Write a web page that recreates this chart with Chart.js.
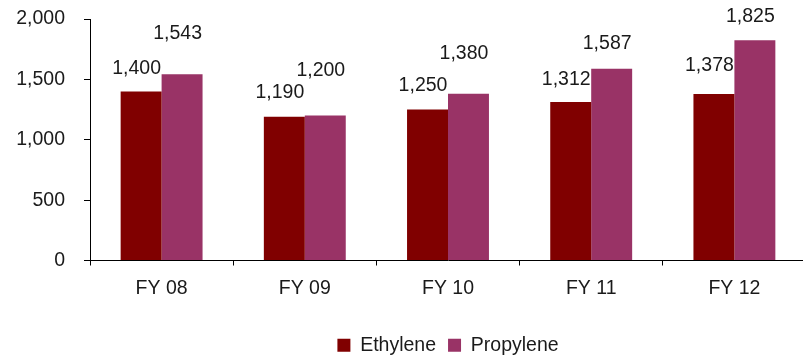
<!DOCTYPE html>
<html>
<head>
<meta charset="utf-8">
<script src="https://cdn.jsdelivr.net/npm/chart.js@4/dist/chart.umd.min.js"></script>
<style>
  html, body { margin: 0; padding: 0; background: #fff; overflow: hidden; }
  #wrap { position: relative; width: 810px; height: 365px; }
</style>
</head>
<body>
<div id="wrap"><canvas id="c"></canvas></div>
<script>
// Capacity by fiscal year
const categories = ['FY 08', 'FY 09', 'FY 10', 'FY 11', 'FY 12'];
const ethylene = [1400, 1190, 1250, 1312, 1378];
const propylene = [1543, 1200, 1380, 1587, 1825];
const yTicks = [0, 500, 1000, 1500, 2000];

const FONT = '"Liberation Sans", Arial, sans-serif';
const INK = '#1a1a1a';

// How far above each bar its value label sits (px)
const labelLift = [
  [23, 24, 24, 22, 28],
  [41, 45, 40, 25, 24]
];

const fmt = v => v.toLocaleString('en-US');

const valueLabels = {
  id: 'valueLabels',
  afterDatasetsDraw(chart) {
    const ctx = chart.ctx;
    ctx.save();
    ctx.font = '19.5px ' + FONT;
    ctx.fillStyle = INK;
    ctx.textAlign = 'center';
    ctx.textBaseline = 'middle';
    chart.data.datasets.forEach((ds, di) => {
      chart.getDatasetMeta(di).data.forEach((bar, i) => {
        ctx.fillText(fmt(ds.data[i]), bar.x - 4.5, bar.y - labelLift[di][i]);
      });
    });
    ctx.restore();
  }
};

new Chart(document.getElementById('c'), {
  type: 'bar',
  data: {
    labels: categories,
    datasets: [
      { label: 'Ethylene', data: ethylene, backgroundColor: '#800000' },
      { label: 'Propylene', data: propylene, backgroundColor: '#993366' }
    ]
  },
  options: {
    responsive: true,
    maintainAspectRatio: false,
    animation: false,
    layout: { padding: { top: 19, right: 4, left: 0, bottom: 0 } },
    datasets: { bar: { barPercentage: 1, categoryPercentage: 0.572 } },
    plugins: {
      legend: {
        position: 'bottom',
        fullSize: false,
        labels: {
          font: { family: FONT, size: 19.5 },
          color: INK,
          boxWidth: 13,
          boxHeight: 13,
          padding: 12
        }
      },
      tooltip: { enabled: false }
    },
    scales: {
      x: {
        grid: { offset: true, drawOnChartArea: false, drawTicks: true, tickLength: 5, color: '#000' },
        border: { display: true, color: '#000' },
        ticks: { font: { family: FONT, size: 19.5 }, color: INK, padding: 11 },
        afterFit(scale) { scale.height = 63; }
      },
      y: {
        min: 0,
        max: 2000,
        afterBuildTicks(scale) { scale.ticks = yTicks.map(v => ({ value: v })); },
        grid: { drawOnChartArea: false, drawTicks: true, tickLength: 6, color: '#000' },
        border: { display: true, color: '#000' },
        ticks: { font: { family: FONT, size: 19.5 }, color: INK, padding: 19, callback: v => fmt(v) },
        afterFit(scale) {
          scale.width = 90;
          scale.paddingTop = 0;
          scale.paddingBottom = 0;
        }
      }
    }
  },
  plugins: [valueLabels]
});
</script>
</body>
</html>
